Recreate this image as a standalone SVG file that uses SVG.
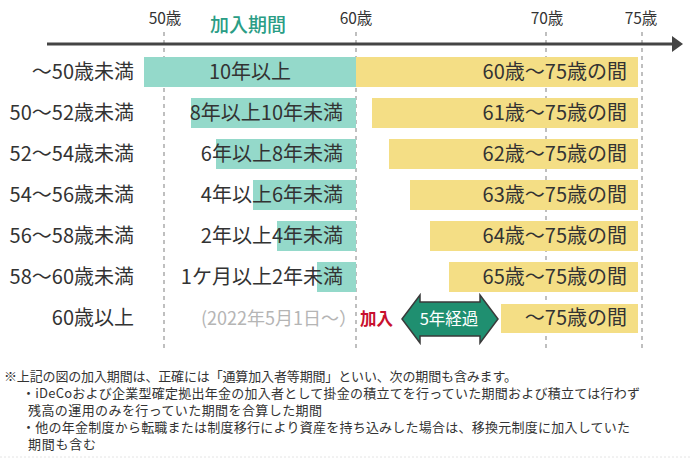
<svg xmlns="http://www.w3.org/2000/svg" width="690" height="459" viewBox="0 0 690 459">
<style>
text{font-family:"Noto Sans CJK JP","Noto Sans",sans-serif;fill:#333}
.ax{font-size:15.5px;text-anchor:middle}
.lbl{font-size:20px;text-anchor:end}
.tl{font-size:20px;text-anchor:end}
.yl{font-size:20px;text-anchor:end}
.teal{fill:#94d9ca}
.yel{fill:#f4de85}
.grid{stroke:#aaaaaa;stroke-width:1.5;stroke-dasharray:4 4;fill:none}
.note{font-size:13px}
</style>
<rect width="690" height="459" fill="#ffffff"/>
<g id="grid">
<line class="grid" x1="164" y1="32" x2="164" y2="348"/>
<line class="grid" x1="356" y1="32" x2="356" y2="348"/>
<line class="grid" x1="546" y1="32" x2="546" y2="348"/>
<line class="grid" x1="642" y1="32" x2="642" y2="348"/>
</g>
<g id="axis">
<line x1="47" y1="44" x2="674" y2="44" stroke="#444444" stroke-width="3"/>
<polygon points="672,36 683,44 672,52" fill="#444444"/>
<text class="ax" x="165" y="24">50歳</text>
<text class="ax" x="356" y="24">60歳</text>
<text class="ax" x="547" y="24">70歳</text>
<text class="ax" x="641" y="24">75歳</text>
<text x="248" y="32" style="font-size:19px;text-anchor:middle;fill:#2a9d85;font-weight:500">加入期間</text>
</g>
<g id="row1">
<text class="lbl" x="134" y="79">～50歳未満</text>
<rect class="teal" x="144" y="57" width="212" height="30"/>
<rect class="yel" x="356" y="57" width="282" height="30"/>
<text x="250" y="79" style="font-size:20px;text-anchor:middle">10年以上</text>
<text class="yl" x="627" y="79">60歳～75歳の間</text>
</g>
<g id="row2">
<text class="lbl" x="134" y="120">50～52歳未満</text>
<rect class="teal" x="191" y="98" width="165" height="30"/>
<rect class="yel" x="372" y="98" width="266" height="30"/>
<text class="tl" x="343" y="120">8年以上10年未満</text>
<text class="yl" x="627" y="120">61歳～75歳の間</text>
</g>
<g id="row3">
<text class="lbl" x="134" y="161">52～54歳未満</text>
<rect class="teal" x="216" y="139" width="140" height="30"/>
<rect class="yel" x="389" y="139" width="249" height="30"/>
<text class="tl" x="343" y="161">6年以上8年未満</text>
<text class="yl" x="627" y="161">62歳～75歳の間</text>
</g>
<g id="row4">
<text class="lbl" x="134" y="202">54～56歳未満</text>
<rect class="teal" x="253" y="180" width="103" height="30"/>
<rect class="yel" x="410" y="180" width="228" height="30"/>
<text class="tl" x="343" y="202">4年以上6年未満</text>
<text class="yl" x="627" y="202">63歳～75歳の間</text>
</g>
<g id="row5">
<text class="lbl" x="134" y="243">56～58歳未満</text>
<rect class="teal" x="277" y="221" width="79" height="30"/>
<rect class="yel" x="430" y="221" width="208" height="30"/>
<text class="tl" x="343" y="243">2年以上4年未満</text>
<text class="yl" x="627" y="243">64歳～75歳の間</text>
</g>
<g id="row6">
<text class="lbl" x="134" y="284">58～60歳未満</text>
<rect class="teal" x="317" y="262" width="39" height="30"/>
<rect class="yel" x="449" y="262" width="189" height="30"/>
<text class="tl" x="343" y="284">1ケ月以上2年未満</text>
<text class="yl" x="627" y="284">65歳～75歳の間</text>
</g>
<g id="row7">
<text class="lbl" x="134" y="325">60歳以上</text>
<text x="201" y="325" style="font-size:18px;fill:#b5b5b5">(2022年5月1日～）</text>
<text x="360" y="325" style="font-size:16.5px;fill:#c8102e;font-weight:700">加入</text>
<rect class="yel" x="501" y="304" width="137" height="29"/>
<text class="yl" x="627" y="325">～75歳の間</text>
</g>
<g id="arrow5y">
<polygon points="402,319 420,295 420,302 480,302 480,295 498,319 480,343 480,336 420,336 420,343" fill="#1f8f70" stroke="#3a3a3a" stroke-width="1.5" stroke-linejoin="miter"/>
<text x="449" y="325" style="font-size:16.5px;text-anchor:middle;fill:#ffffff">5年経過</text>
</g>
<g id="notes">
<text class="note">
<tspan x="4" y="381" textLength="513" lengthAdjust="spacing">※上記の図の加入期間は、正確には「通算加入者等期間」といい、次の期間も含みます。</tspan>
<tspan x="22" y="398" textLength="618" lengthAdjust="spacing">・iDeCoおよび企業型確定拠出年金の加入者として掛金の積立てを行っていた期間および積立ては行わず</tspan>
<tspan x="28" y="415" textLength="294" lengthAdjust="spacing">残高の運用のみを行っていた期間を合算した期間</tspan>
<tspan x="22" y="432" textLength="608" lengthAdjust="spacing">・他の年金制度から転職または制度移行により資産を持ち込みした場合は、移換元制度に加入していた</tspan>
<tspan x="28" y="449" textLength="68" lengthAdjust="spacing">期間も含む</tspan>
</text>
</g>
<line x1="0" y1="457" x2="690" y2="457" stroke="#e4e4e4" stroke-width="1" stroke-dasharray="2 2"/>
</svg>
